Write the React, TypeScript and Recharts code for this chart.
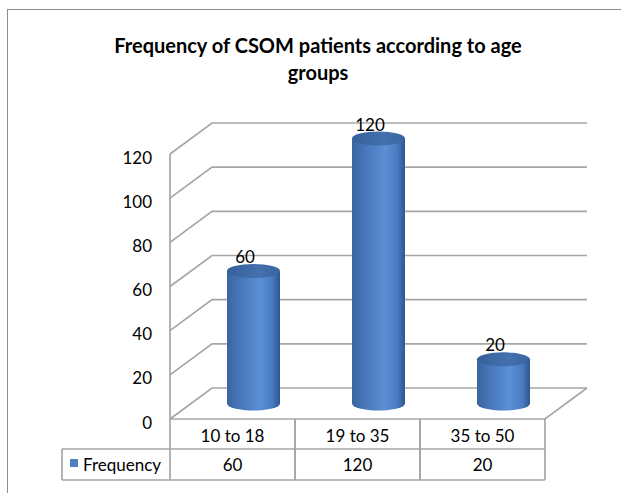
import React from "react";
import { BarChart, Bar, XAxis, YAxis, CartesianGrid, LabelList } from "recharts";

// chart values
const ageGroups = ["10 to 18", "19 to 35", "35 to 50"];
const frequency = [60, 120, 20];
const yTicks = [0, 20, 40, 60, 80, 100, 120];
const seriesName = "Frequency";
const titleLines = ["Frequency of CSOM patients according to age", "groups"];

const data = ageGroups.map((group, i) => ({ group, value: frequency[i] }));

const W = 621;
const H = 493;
const DX = 42; // depth offset of the back wall
const DY = 31;
const GRID = "#a6a6a6";
const FONT = "Lato, 'Open Sans', sans-serif";
const FS = 17;
const Y_AXIS_W = 60;
const X_AXIS_H = 61;
const margin = { top: 154, right: 76, bottom: 13, left: 170 - Y_AXIS_W };
const plotLeft = margin.left + Y_AXIS_W;
const plotRight = W - margin.right;
const plotBottom = H - margin.bottom - X_AXIS_H;
const colW = (plotRight - plotLeft) / ageGroups.length;

const gridLine = (p: any) => {
  const { x1, x2, y1 } = p;
  const isFloor = Math.abs(y1 - plotBottom) < 1;
  return (
    <g key={p.key}>
      <polyline
        points={`${x1},${y1} ${x1 + DX},${y1 - DY} ${x2 + DX},${y1 - DY}`}
        fill="none"
        stroke={GRID}
        strokeWidth={1.7}
      />
      {isFloor && (
        <polyline
          points={`${x1},${y1} ${x2},${y1} ${x2 + DX},${y1 - DY}`}
          fill="none"
          stroke={GRID}
          strokeWidth={1.7}
        />
      )}
    </g>
  );
};

const Cylinder = (p: any) => {
  const { x, y, width, height } = p;
  const rx = width / 2;
  const ry = 7;
  const cx = x + rx + DX / 2;
  const top = y - DY / 2;
  const bottom = y + height - DY / 2;
  const l = cx - rx;
  const r = cx + rx;
  return (
    <g>
      <path
        d={`M${l},${top} L${l},${bottom} A${rx},${ry} 0 0 0 ${r},${bottom} L${r},${top} Z`}
        fill="url(#cylBody)"
      />
      <ellipse cx={cx} cy={top} rx={rx} ry={ry} fill="url(#cylTop)" />
    </g>
  );
};

const YTick = (p: any) => (
  <text x={152} y={p.y + 3} textAnchor="end" dominantBaseline="central" fontFamily={FONT} fontSize={FS} fill="#000">
    {p.payload.value}
  </text>
);

const TableTick = (p: any) => {
  const { x, payload } = p;
  const i = ageGroups.indexOf(payload.value);
  const top = plotBottom;
  const mid = top + 30;
  const bot = top + 61;
  const l = x - colW / 2;
  const r = x + colW / 2;
  const line = { stroke: GRID, strokeWidth: 1.7 };
  return (
    <g>
      <line x1={l} y1={top} x2={l} y2={bot} {...line} />
      <line x1={r} y1={top} x2={r} y2={bot} {...line} />
      <line x1={l} y1={mid} x2={r} y2={mid} {...line} />
      <line x1={l} y1={bot} x2={r} y2={bot} {...line} />
      <text x={x} y={top + 16} textAnchor="middle" dominantBaseline="central" fontFamily={FONT} fontSize={FS} fill="#000">
        {payload.value}
      </text>
      <text x={x} y={mid + 15} textAnchor="middle" dominantBaseline="central" fontFamily={FONT} fontSize={FS} fill="#000">
        {frequency[i]}
      </text>
      {i === 0 && (
        <g>
          <line x1={62} y1={mid} x2={l} y2={mid} {...line} />
          <line x1={62} y1={bot} x2={l} y2={bot} {...line} />
          <line x1={62} y1={mid} x2={62} y2={bot} {...line} />
          <rect x={70} y={459} width={8} height={8} fill="#4f81bd" />
          <text x={83} y={mid + 15} dominantBaseline="central" fontFamily={FONT} fontSize={FS} fill="#000">
            {seriesName}
          </text>
        </g>
      )}
    </g>
  );
};

const ValueLabel = (p: any) => (
  <text
    x={p.x + p.width / 2 + 12.5}
    y={p.y - 30}
    textAnchor="middle"
    dominantBaseline="central"
    fontFamily={FONT}
    fontSize={FS}
    fill="#000"
  >
    {p.value}
  </text>
);

export default function App() {
  return (
    <div style={{ position: "absolute", left: 0, top: 0, width: W, height: H, overflow: "hidden", background: "#fff" }}>
      <div
        style={{
          position: "absolute",
          left: 7,
          top: 9,
          width: 800,
          height: 700,
          borderLeft: "1.5px solid #8c8c8c",
          borderTop: "1.5px solid #8c8c8c",
        }}
      />
      <div
        style={{
          position: "absolute",
          left: 0,
          top: 32,
          width: 636,
          textAlign: "center",
          fontFamily: FONT,
          fontWeight: 700,
          fontSize: 20,
          lineHeight: "27px",
          color: "#000",
        }}
      >
        {titleLines.map((t) => (
          <div key={t}>{t}</div>
        ))}
      </div>
      <div style={{ position: "absolute", left: 0, top: 0 }}>
        <BarChart width={W} height={H} data={data} margin={margin} barSize={53}>
          <defs>
            <linearGradient id="cylBody" x1="0" y1="0" x2="1" y2="0">
              <stop offset="0%" stopColor="#3a65a0" />
              <stop offset="25%" stopColor="#4777b9" />
              <stop offset="62%" stopColor="#5b8fd6" />
              <stop offset="85%" stopColor="#4a7cc1" />
              <stop offset="100%" stopColor="#2f568f" />
            </linearGradient>
            <linearGradient id="cylTop" x1="0" y1="0" x2="1" y2="0">
              <stop offset="0%" stopColor="#36609a" />
              <stop offset="60%" stopColor="#4371ae" />
              <stop offset="100%" stopColor="#3a659f" />
            </linearGradient>
          </defs>
          <CartesianGrid vertical={false} horizontal={gridLine} />
          <XAxis
            dataKey="group"
            height={X_AXIS_H}
            axisLine={false}
            tickLine={false}
            interval={0}
            tick={TableTick}
          />
          <YAxis
            width={Y_AXIS_W}
            domain={[0, 120]}
            ticks={yTicks}
            axisLine={{ stroke: GRID, strokeWidth: 1.7 }}
            tickLine={false}
            tick={YTick}
          />
          <Bar dataKey="value" shape={Cylinder} isAnimationActive={false}>
            <LabelList dataKey="value" content={ValueLabel} />
          </Bar>
        </BarChart>
      </div>
    </div>
  );
}
